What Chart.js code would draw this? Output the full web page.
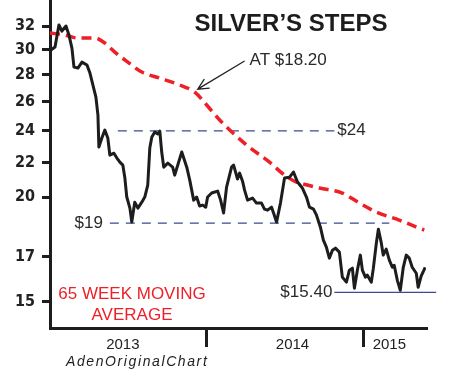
<!DOCTYPE html>
<html>
<head>
<meta charset="utf-8">
<script src="https://cdn.jsdelivr.net/npm/chart.js@4.4.1/dist/chart.umd.min.js"></script>
<style>
    html, body { margin: 0; padding: 0; background: #fff; }
    #wrap { width: 450px; height: 373px; }
</style>
</head>
<body>
<div id="wrap"><canvas id="chart" width="450" height="373"></canvas></div>
<script>
// Weekly silver price (x = fractional year)
const silverYears = [
    2013.006, 2013.032, 2013.057, 2013.076, 2013.102, 2013.121, 2013.140, 2013.153, 2013.178, 2013.204,
    2013.236, 2013.255, 2013.274, 2013.293, 2013.306, 2013.312, 2013.331, 2013.350, 2013.369, 2013.382,
    2013.408, 2013.427, 2013.446, 2013.465, 2013.478, 2013.490, 2013.510, 2013.522, 2013.541, 2013.561,
    2013.586, 2013.605, 2013.624, 2013.637, 2013.650, 2013.669, 2013.688, 2013.701, 2013.713, 2013.726,
    2013.752, 2013.783, 2013.796, 2013.841, 2013.873, 2013.892, 2013.917, 2013.936, 2013.955, 2013.975,
    2013.994, 2014.006, 2014.032, 2014.070, 2014.089, 2014.108, 2014.127, 2014.159, 2014.172, 2014.197,
    2014.210, 2014.229, 2014.242, 2014.261, 2014.293, 2014.318, 2014.350, 2014.369, 2014.389, 2014.414,
    2014.427, 2014.446, 2014.471, 2014.497, 2014.529, 2014.554, 2014.580, 2014.611, 2014.637, 2014.656,
    2014.682, 2014.701, 2014.726, 2014.745, 2014.764, 2014.783, 2014.803, 2014.822, 2014.847, 2014.866,
    2014.892, 2014.911, 2014.930, 2014.943, 2014.962, 2014.981, 2014.994, 2015.013, 2015.025, 2015.051,
    2015.064, 2015.083, 2015.096, 2015.115, 2015.127, 2015.146, 2015.166, 2015.185, 2015.197, 2015.217,
    2015.236, 2015.255, 2015.274, 2015.293, 2015.312, 2015.338, 2015.350, 2015.369, 2015.395
];
const silverPrices = [
    29.96, 30.21, 32.09, 31.56, 32.00, 31.22, 30.12, 28.59, 28.51, 28.98,
    28.75, 28.12, 27.21, 26.33, 25.06, 22.95, 23.53, 24.05, 23.53, 22.45,
    22.57, 22.27, 22.02, 21.84, 21.08, 20.01, 19.41, 18.68, 19.73, 19.41,
    19.73, 20.01, 20.68, 22.89, 23.59, 23.92, 23.79, 23.98, 22.64, 21.72,
    21.96, 21.72, 21.25, 22.64, 21.72, 20.96, 19.84, 20.01, 19.52, 19.57,
    19.46, 20.01, 20.23, 20.34, 19.84, 19.15, 20.56, 21.72, 21.84, 21.02,
    21.37, 20.90, 20.39, 19.84, 19.95, 19.68, 19.68, 19.36, 19.30, 19.46,
    19.15, 18.68, 19.68, 21.08, 21.13, 21.43, 20.85, 20.51, 20.01, 19.46,
    19.36, 19.04, 18.42, 17.78, 17.44, 16.92, 17.29, 17.39, 17.20, 16.06,
    15.84, 16.37, 16.46, 15.58, 16.37, 17.06, 16.37, 16.06, 16.15, 15.84,
    16.46, 17.63, 18.32, 17.63, 17.06, 17.34, 16.83, 16.50, 16.59, 15.92,
    15.49, 16.50, 17.06, 16.92, 16.50, 16.23, 15.62, 16.10, 16.50
];

// 65 week moving average
const maYears = [2013.000, 2013.096, 2013.178, 2013.287, 2013.350, 2013.414, 2013.497, 2013.586,
    2013.701, 2013.828, 2013.924, 2014.000, 2014.083, 2014.255, 2014.401, 2014.497,
    2014.573, 2014.643, 2014.720, 2014.866, 2014.975, 2015.083, 2015.229, 2015.389];
const maValues = [31.39, 31.22, 30.96, 30.96, 30.54, 29.79, 28.98, 28.20,
    27.74, 27.21, 26.69, 25.76, 24.72, 23.08, 22.02, 21.25,
    20.85, 20.68, 20.51, 20.23, 19.68, 19.20, 18.78, 18.27];

// Support / resistance levels: [fromYear, toYear], price, label
const level24 = { years: [2013.433, 2014.815], price: 24.0, label: '$24' };
const level19 = { years: [2013.382, 2015.166], price: 18.63, label: '$19' };
const level1540 = { years: [2014.815, 2015.465], price: 15.40, label: '$15.40' };

// Axis ticks
const yTicks = [15, 17, 20, 22, 24, 26, 28, 30, 32];
const yearBounds = [2014, 2015];
const yearLabelPos = [2013.465, 2014.548, 2015.166];
const yearLabels = ['2013', '2014', '2015'];

const FONT = "'Liberation Sans', Arial, Helvetica, sans-serif";
const NAVY = '#3b4a92';
const RED = '#ee1f26';
const INK = '#1d1d1d';

function zip(xs, ys) {
    return xs.map((x, i) => ({ x: x, y: ys[i] }));
}

function levelData(level) {
    return level.years.map(x => ({ x: x, y: level.price }));
}

// no automatic label padding, the axes sit right at the canvas edges
function noPadding(s) {
    s.paddingTop = 0;
    s.paddingBottom = 0;
    s.paddingLeft = 0;
    s.paddingRight = 0;
}

const textPlugin = {
    id: 'chartText',
    afterDatasetsDraw(chart) {
        const ctx = chart.ctx;
        const xs = chart.scales.x;
        const ys = chart.scales.y;
        const px = v => xs.getPixelForValue(v);
        const py = v => ys.getPixelForValue(v);

        ctx.save();
        ctx.textBaseline = 'middle';

        // title
        ctx.fillStyle = INK;
        ctx.font = 'bold 24px ' + FONT;
        ctx.textAlign = 'center';
        ctx.fillText('SILVER\u2019S STEPS', 291, 24);

        // level labels
        ctx.font = '17px ' + FONT;
        ctx.fillStyle = '#2a2a2a';
        ctx.textAlign = 'left';
        ctx.fillText(level24.label, px(level24.years[1]) + 3, py(level24.price));
        ctx.textAlign = 'right';
        ctx.fillText(level19.label, px(level19.years[0]) - 7, py(level19.price));
        ctx.fillText(level1540.label, px(level1540.years[0]) - 2, py(level1540.price));

        // arrow to the moving average
        const tailX = px(2014.242), tailY = py(29.07);
        const tipX = px(2013.943), tipY = py(26.91);
        ctx.strokeStyle = '#222';
        ctx.lineWidth = 1.3;
        ctx.beginPath();
        ctx.moveTo(tailX, tailY);
        ctx.lineTo(tipX, tipY);
        const ang = Math.atan2(tipY - tailY, tipX - tailX);
        const head = 12;
        ctx.moveTo(tipX - head * Math.cos(ang - 0.45), tipY - head * Math.sin(ang - 0.45));
        ctx.lineTo(tipX, tipY);
        ctx.lineTo(tipX - head * Math.cos(ang + 0.45), tipY - head * Math.sin(ang + 0.45));
        ctx.stroke();
        ctx.textAlign = 'left';
        ctx.fillText('AT $18.20', px(2014.274), py(29.15));

        // moving average legend
        ctx.fillStyle = RED;
        ctx.font = '17px ' + FONT;
        ctx.textAlign = 'center';
        ctx.fillText('65 WEEK MOVING', 132, 294);
        ctx.fillText('AVERAGE', 132, 315);

        // credit
        ctx.fillStyle = '#222';
        ctx.font = 'italic 14px ' + FONT;
        ctx.textAlign = 'left';
        ctx.textBaseline = 'alphabetic';
        ctx.letterSpacing = '1.6px';
        ctx.fillText('AdenOriginalChart', 66, 366);
        ctx.restore();
    }
};

new Chart(document.getElementById('chart'), {
    type: 'line',
    data: {
        datasets: [
            {
                label: 'Silver',
                data: zip(silverYears, silverPrices),
                borderColor: INK,
                borderWidth: 3,
                pointRadius: 0,
                tension: 0,
                borderJoinStyle: 'round'
            },
            {
                label: '65 week moving average',
                data: zip(maYears, maValues),
                borderColor: RED,
                borderWidth: 3.5,
                borderDash: [10, 6],
                pointRadius: 0,
                cubicInterpolationMode: 'monotone',
                clip: false
            },
            {
                label: '$24',
                data: levelData(level24),
                borderColor: NAVY,
                borderWidth: 1.3,
                borderDash: [9, 7],
                pointRadius: 0
            },
            {
                label: '$19',
                data: levelData(level19),
                borderColor: NAVY,
                borderWidth: 1.3,
                borderDash: [9, 7],
                pointRadius: 0
            },
            {
                label: '$15.40',
                data: levelData(level1540),
                borderColor: NAVY,
                borderWidth: 1.3,
                pointRadius: 0,
                clip: false
            }
        ]
    },
    options: {
        responsive: false,
        animation: false,
        layout: { padding: { left: 0, right: 24, top: 0, bottom: 0 } },
        plugins: {
            legend: { display: false },
            tooltip: { enabled: false }
        },
        scales: {
            x: {
                type: 'linear',
                min: 2013,
                max: 2015.40,
                afterFit: s => { s.height = 45; noPadding(s); },
                afterBuildTicks: s => {
                    s.ticks = yearLabelPos.concat(yearBounds)
                        .sort((a, b) => a - b)
                        .map(v => ({ value: v }));
                },
                border: { display: true, color: INK, width: 3 },
                grid: {
                    drawOnChartArea: false,
                    drawTicks: true,
                    tickLength: 19,
                    lineWidth: 3,
                    color: c => (c.tick && yearBounds.includes(c.tick.value)) ? INK : 'rgba(0,0,0,0)'
                },
                ticks: {
                    autoSkip: false,
                    maxRotation: 0,
                    padding: -11,
                    color: '#222',
                    font: { family: FONT, size: 15 },
                    callback: v => {
                        const i = yearLabelPos.indexOf(v);
                        return i >= 0 ? yearLabels[i] : '';
                    }
                }
            },
            y: {
                type: 'logarithmic',
                min: 13.966,
                max: 34.37,
                afterFit: s => { s.width = 50; noPadding(s); },
                afterBuildTicks: s => {
                    s.ticks = yTicks.map(v => ({ value: v }));
                },
                border: { display: true, color: INK, width: 3 },
                grid: {
                    drawOnChartArea: false,
                    drawTicks: true,
                    tickLength: 8,
                    lineWidth: 3,
                    color: INK
                },
                ticks: {
                    padding: 7,
                    color: '#222',
                    font: { family: "'DejaVu Sans Condensed', 'Liberation Sans Narrow', sans-serif", size: 16, weight: 'bold' },
                    callback: v => String(v)
                }
            }
        }
    },
    plugins: [textPlugin]
});
</script>
</body>
</html>
